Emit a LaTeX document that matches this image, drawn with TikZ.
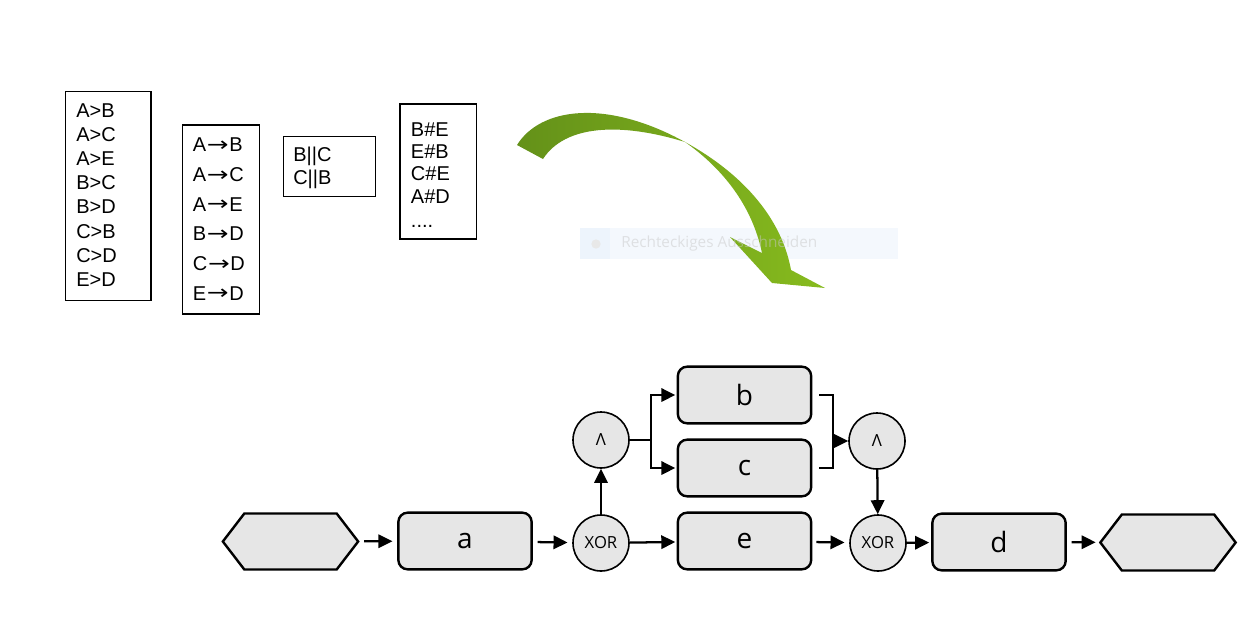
\documentclass[tikz,border=0pt]{standalone}
\usepackage{fontspec}
\usepackage{graphicx}
\setmainfont{Liberation Sans}
\newfontfamily\osans{Open Sans}
\newfontfamily\dvsans{DejaVu Sans}
\usetikzlibrary{arrows.meta,shapes.symbols,calc}
\definecolor{boxgray}{RGB}{230,230,230}
\definecolor{gdark}{RGB}{100,145,25}
\definecolor{glight}{RGB}{135,187,30}
\definecolor{ovlblue}{RGB}{244,248,253}
\definecolor{ovlicon}{RGB}{237,244,252}
\definecolor{ovltext}{RGB}{200,200,200}
\newcommand{\lto}{\kern0.03em\raisebox{0.02em}{\scalebox{1.3}[1]{\dvsans →}}\kern0.03em}
\begin{document}
\begin{tikzpicture}[x=0.75pt,y=-0.75pt,
  listbox/.style={draw=black,line width=1.1pt,inner sep=0,anchor=north west},
  listtext/.style={anchor=base west,inner sep=0,font=\fontsize{15}{17}\selectfont},
  task/.style={draw=black,line width=1.8pt,fill=boxgray,rounded corners=7pt,minimum width=100pt,minimum height=42.5pt,inner sep=0,font=\osans\fontsize{21}{24}\selectfont},
  gate/.style={circle,draw=black,line width=1.2pt,fill=boxgray,minimum size=42pt,inner sep=0,font=\osans\fontsize{12.5}{14}\selectfont},
  event/.style={signal,signal to=west and east,signal pointer angle=105,draw=black,line width=1.8pt,fill=boxgray,minimum width=101.5pt,minimum height=42pt,inner sep=0},
  flow/.style={line width=1.7pt,-{Triangle[length=10.5pt,width=10pt]}},
  plain/.style={line width=1.6pt},
  ]
\useasboundingbox (0,0) rectangle (1252,629);

% ---- list boxes ----
\node[listbox,minimum width=64pt,minimum height=156.5pt] (l1) at (65,91) {};
\foreach \t [count=\i from 0] in {A>B,A>C,A>E,B>C,B>D,C>B,C>D,E>D}
  \node[listtext] (l1t\i) at (76,117+24.2*\i) {\t};

\node[listbox,minimum width=57.5pt,minimum height=141.75pt] (l2) at (182,124.3) {};
\foreach \p/\q [count=\i from 0] in {A/B,A/C,A/E,B/D,C/D,E/D}
  \node[listtext] (l2t\i) at (192.7,151.7+29.7*\i) {\p\lto\q};

\node[listbox,minimum width=69pt,minimum height=45pt] (l3) at (282.7,135.7) {};
\node[listtext] (l3t0) at (293,161.7) {B||C};
\node[listtext] (l3t1) at (293,184.5) {C||B};

\node[listbox,minimum width=57.5pt,minimum height=101.25pt] (l4) at (399.3,103.3) {};
\foreach \t [count=\i from 0] in {B\#E,E\#B,C\#E,A\#D}
  \node[listtext] (l4t\i) at (410.7,136+22.4*\i) {\t};
\node[listtext] (l4t4) at (410.7,227) {....};

% ---- faint snipping overlay (behind) ----
\node[fill=ovlblue,minimum width=238.5pt,minimum height=23.25pt,inner sep=0,anchor=north west] (snip) at (580,228) {};
\node[fill=ovlicon,minimum width=22.5pt,minimum height=23.25pt,inner sep=0,anchor=north west] (snipicon) at (580,228) {};
\node[circle,fill=black!9,minimum size=7pt,inner sep=0] (snipdot) at (596,244) {};

% ---- green curved arrow ----
\shade[left color=gdark,right color=glight]
  (517,145) .. controls (540,108) and (605,98) .. (685,142)
  .. controls (745,175) and (782,220) .. (791,270)
  -- (825,288) -- (772,283) -- (730,237) -- (762,253)
  .. controls (752,205) and (722,168) .. (685,142)
  .. controls (620,122) and (565,125) .. (543,159) -- cycle;

\node[anchor=west,inner sep=0,text=ovltext,text opacity=0.5,font=\osans\fontsize{11.5}{13}\selectfont] (sniptext) at (621,244) {Rechteckiges Ausschneiden};

% ---- process diagram ----
\node[event] (start) at (290.5,541.5) {};
\node[task] (a) at (465,541) {a};
\node[gate] (x1) at (601,543) {XOR};
\node[gate] (n1) at (601,440) {Λ};
\node[task] (b) at (744.5,395) {b};
\node[task] (c) at (744.5,468) {c};
\node[task] (e) at (744.5,541) {e};
\node[gate] (n2) at (877,441) {Λ};
\node[gate] (x2) at (878,543) {XOR};
\node[task] (d) at (999,542) {d};
\node[event] (end) at (1168,542.5) {};

\coordinate (split) at (651,440);
\coordinate (join) at (833,441);

\draw[flow,shorten <=3.5pt,shorten >=3.5pt] (start) -- (a);
\draw[flow,shorten <=3.5pt,shorten >=3.5pt] (a) -- (x1);
\draw[flow] (x1) -- (n1);
\draw[flow,shorten >=1pt] (x1) -- (e);
\draw[plain] (n1) -- (split);
\draw[flow,shorten >=1pt] (split) |- (b);
\draw[flow,shorten >=1pt] (split) |- (c);
\draw[plain,shorten <=5pt] (b.east) -| (join);
\draw[plain,shorten <=5pt] (c.east) -| (join);
\draw[flow] (join) -- (n2);
\draw[flow] (n2) -- (x2);
\draw[flow,shorten <=3pt,shorten >=3.5pt] (e) -- (x2);
\draw[flow,shorten >=1.5pt] (x2) -- (d);
\draw[flow,shorten <=3.5pt,shorten >=2.5pt] (d) -- (end);
\end{tikzpicture}
\end{document}
